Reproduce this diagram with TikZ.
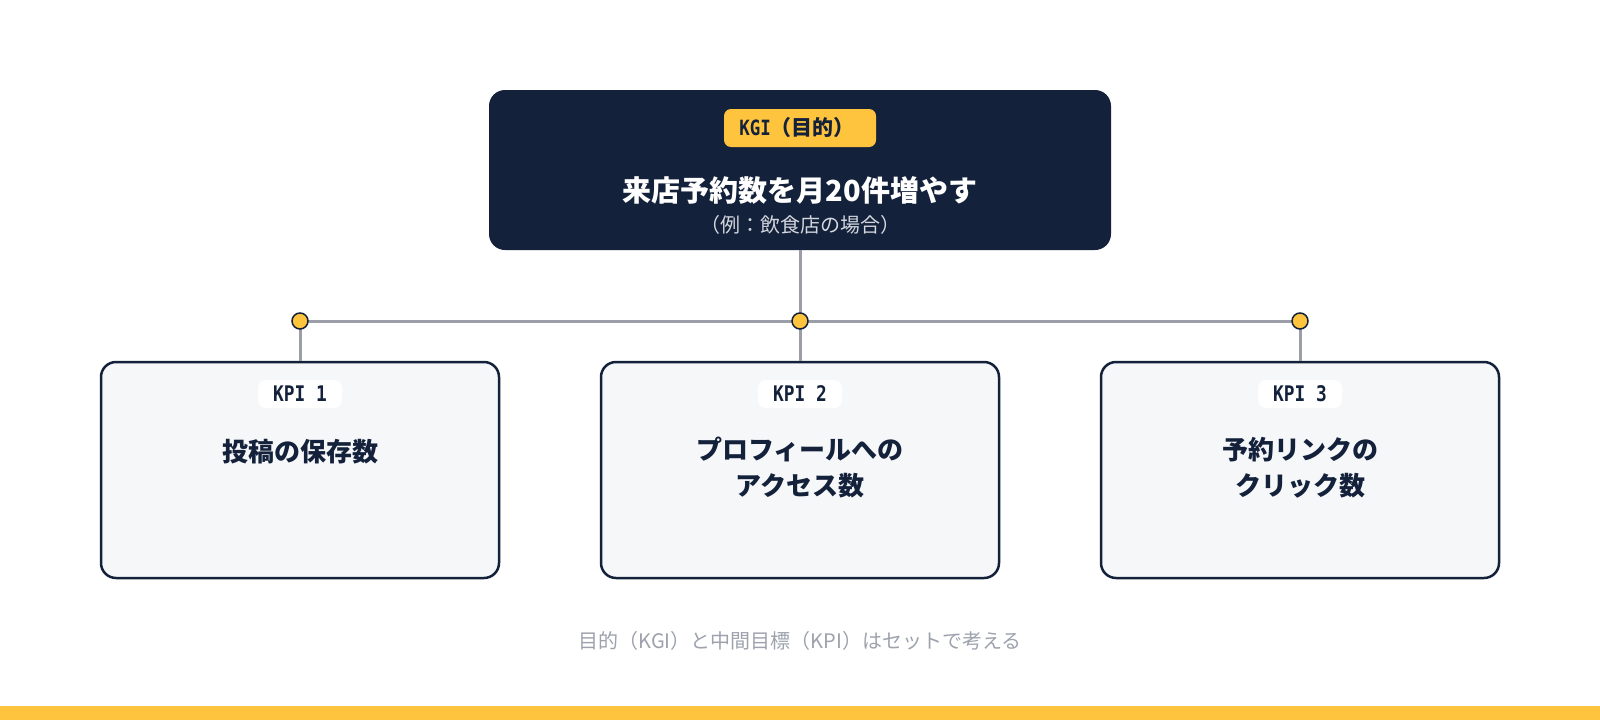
\documentclass[tikz,border=0pt]{standalone}
\usepackage{fontspec}
\setmainfont{Noto Sans CJK JP}
\newfontfamily\monob{DejaVu Sans Mono}[FakeStretch=0.83]
\definecolor{navy}{HTML}{14213B}
\definecolor{gold}{HTML}{FFC43E}
\definecolor{paper}{HTML}{F6F7F9}
\definecolor{wire}{HTML}{9B9EA7}
\definecolor{subgray}{HTML}{D3D7DE}
\definecolor{footgray}{HTML}{9DA2AD}
\tikzset{
  kgibox/.style={fill=navy, rounded corners=16pt, minimum width=622pt, minimum height=160pt, inner sep=0pt},
  kpibox/.style={fill=paper, draw=navy, line width=2.5pt, rounded corners=15pt, minimum width=398pt, minimum height=216pt, inner sep=0pt},
  kgitag/.style={fill=gold, rounded corners=7pt, minimum width=152pt, minimum height=38pt, inner sep=0pt, text=navy, font=\fontsize{21}{24}\selectfont\bfseries},
  kpitag/.style={fill=white, rounded corners=8pt, minimum width=84pt, minimum height=28pt, inner sep=0pt, text=navy, font=\fontsize{21.5}{26}\selectfont\monob\bfseries},
  kpitext/.style={text=navy, align=center, anchor=north, inner sep=0pt, font=\fontsize{26}{36}\selectfont\bfseries},
  wireline/.style={draw=wire, line width=3pt},
  jdot/.style={circle, fill=gold, draw=navy, line width=1.5pt, minimum size=16pt, inner sep=0pt}
}
\begin{document}
\begin{tikzpicture}[x=1pt,y=-1pt]
\useasboundingbox (0,0) rectangle (1600,720);
\fill[white] (0,0) rectangle (1600,720);
\fill[gold] (0,706) rectangle (1600,720);

% top box
\node[kgibox] (kgi) at (800,170) {};
\node[kgitag] (kgitag) at (800,128) {\hspace*{-6pt}{\monob\bfseries KGI}（目的）};
\node[text=white, inner sep=0pt, font=\fontsize{29}{34}\selectfont\bfseries] (title) at (800,190) {来店予約数を月20件増やす};
\node[text=subgray, inner sep=0pt, font=\fontsize{20}{24}\selectfont] (sub) at (800,225) {（例：飲食店の場合）};

% KPI boxes
\node[kpibox] (k1) at (300,470) {};
\node[kpibox] (k2) at (800,470) {};
\node[kpibox] (k3) at (1300,470) {};

% junctions
\coordinate (j1) at (300,321);
\coordinate (j2) at (800,321);
\coordinate (j3) at (1300,321);

\draw[wireline] (kgi.south) -- (j2);
\draw[wireline] (j1) -- (j3);
\draw[wireline] (j1) -- (k1.north);
\draw[wireline] (j2) -- (k2.north);
\draw[wireline] (j3) -- (k3.north);
\node[jdot] (d1) at (j1) {};
\node[jdot] (d2) at (j2) {};
\node[jdot] (d3) at (j3) {};

% tags and texts
\node[kpitag] (t1) at (300,394) {KPI 1};
\node[kpitag] (t2) at (800,394) {KPI 2};
\node[kpitag] (t3) at (1300,394) {KPI 3};

\node[kpitext] (x1) at (300,439) {投稿の保存数};
\node[kpitext] (x2) at (800,437) {プロフィールへの\\アクセス数};
\node[kpitext] (x3) at (1300,437) {予約リンクの\\クリック数};

% footer
\node[text=footgray, inner sep=0pt, font=\fontsize{20}{24}\selectfont] (foot) at (800,641) {目的（KGI）と中間目標（KPI）はセットで考える};
\end{tikzpicture}
\end{document}
